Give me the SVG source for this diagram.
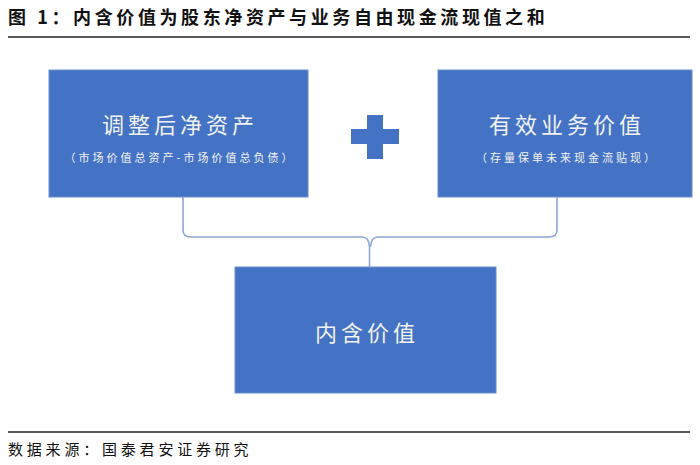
<svg xmlns="http://www.w3.org/2000/svg" width="700" height="465" viewBox="0 0 700 465">
<style>
.box{fill:#4472C4;stroke:#6d8fcf;stroke-width:1}
.t{font-family:"Noto Sans CJK SC","Liberation Sans",sans-serif;fill:#f2f2f2;text-anchor:middle;dominant-baseline:central}
.main{font-size:22px;letter-spacing:4px}
.sub{font-size:11px;letter-spacing:3px}
.cap{font-family:"Noto Sans CJK SC","Liberation Serif",serif;fill:#111}
.conn{fill:none;stroke:#8ea6d2;stroke-width:1.6}
</style>
<rect width="700" height="465" fill="#fff"/>
<text class="cap" x="8" y="24" font-size="18" font-weight="bold" letter-spacing="3.6">图 1：内含价值为股东净资产与业务自由现金流现值之和</text>
<line x1="8" y1="37" x2="690" y2="37" stroke="#222" stroke-width="1.6"/>
<g id="node-net-assets">
<rect class="box" x="49" y="70" width="259" height="127"/>
<text class="t main" x="180" y="123">调整后净资产</text>
<text class="t sub" x="180" y="157">（市场价值总资产-市场价值总负债）</text>
</g>
<g id="node-plus">
<rect x="351" y="129" width="48" height="15" fill="#4472C4"/>
<rect x="367" y="115" width="16" height="44" fill="#4472C4"/>
</g>
<g id="node-vif">
<rect class="box" x="438" y="70" width="254" height="127"/>
<text class="t main" x="567" y="123">有效业务价值</text>
<text class="t sub" x="567" y="157">（存量保单未来现金流贴现）</text>
</g>
<g id="node-ev">
<rect class="box" x="235" y="267" width="261" height="126"/>
<text class="t main" x="367" y="331">内含价值</text>
</g>
<g id="connectors">
<path class="conn" d="M183 197 V230 Q183 237 191 237 H362 Q369 237 369.5 247 V267"/>
<path class="conn" d="M557 197 V230 Q557 237 549 237 H378 Q371 237 370.5 247"/>
</g>
<line x1="8" y1="432" x2="690" y2="432" stroke="#222" stroke-width="1.4"/>
<text class="cap" x="8" y="455" font-size="15" letter-spacing="3.8">数据来源：国泰君安证券研究</text>
</svg>
